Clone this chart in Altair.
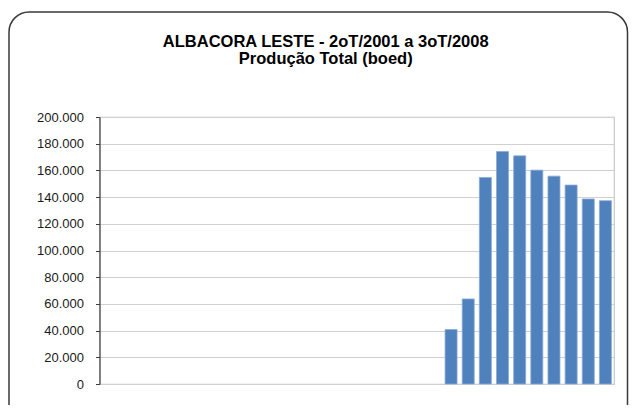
import altair as alt
import pandas as pd

quarters = (["2T2001", "3T2001", "4T2001"]
            + [f"{q}T{y}" for y in range(2002, 2008) for q in range(1, 5)]
            + ["1T2008", "2T2008", "3T2008"])
production = [None] * 20 + [40800, 63700, 154700, 174100, 170900,
                            160200, 155700, 149000, 138600, 137300]
y_ticks = [0, 20000, 40000, 60000, 80000, 100000, 120000, 140000,
           160000, 180000, 200000]

df = pd.DataFrame({"trimestre": quarters, "producao": production})

bars = alt.Chart(df).mark_bar(
    color="#4f81bd", stroke="#8aaad6", strokeWidth=0.8
).encode(
    x=alt.X("trimestre:N", sort=quarters,
            scale=alt.Scale(domain=quarters, paddingInner=0.3, paddingOuter=0.15),
            axis=alt.Axis(title=None, labels=False, ticks=False, domain=False)),
    y=alt.Y("producao:Q",
            scale=alt.Scale(domain=[0, 200000], nice=False),
            axis=alt.Axis(title=None, values=y_ticks,
                          labelExpr="replace(format(datum.value, ','), ',', '.')",
                          labelFont="Liberation Sans", labelFontSize=13,
                          labelColor="#1a1a1a", labelPadding=12,
                          tickSize=4, tickColor="#404040",
                          domainColor="#404040", domainWidth=1.2,
                          gridColor="#d0d0d0", gridWidth=1.2)),
)

frame = alt.Chart(pd.DataFrame({"f": [0]})).mark_rect(
    fill=None, stroke="#3a3a3a", strokeWidth=1.5, cornerRadius=20
).encode(
    x=alt.value(-90.5), x2=alt.value(528),
    y=alt.value(-105), y2=alt.value(330),
)

chart = alt.layer(frame, bars).properties(
    width=514.5, height=267,
    autosize=alt.AutoSizeParams(type="none"),
    padding={"left": 91.5, "top": 109, "right": 15, "bottom": 21},
    title=alt.TitleParams(
        text=["ALBACORA LESTE - 2oT/2001 a 3oT/2008", "Produção Total (boed)"],
        font="Liberation Sans", fontSize=16.5, fontWeight="bold",
        color="#000000", anchor="middle", frame="group", dx=-31,
        offset=-56, lineHeight=17,
    ),
).configure_view(stroke="#c8c8c8", strokeWidth=1.2)

chart.save("out.html", embed_options={"renderer": "svg", "actions": False})
